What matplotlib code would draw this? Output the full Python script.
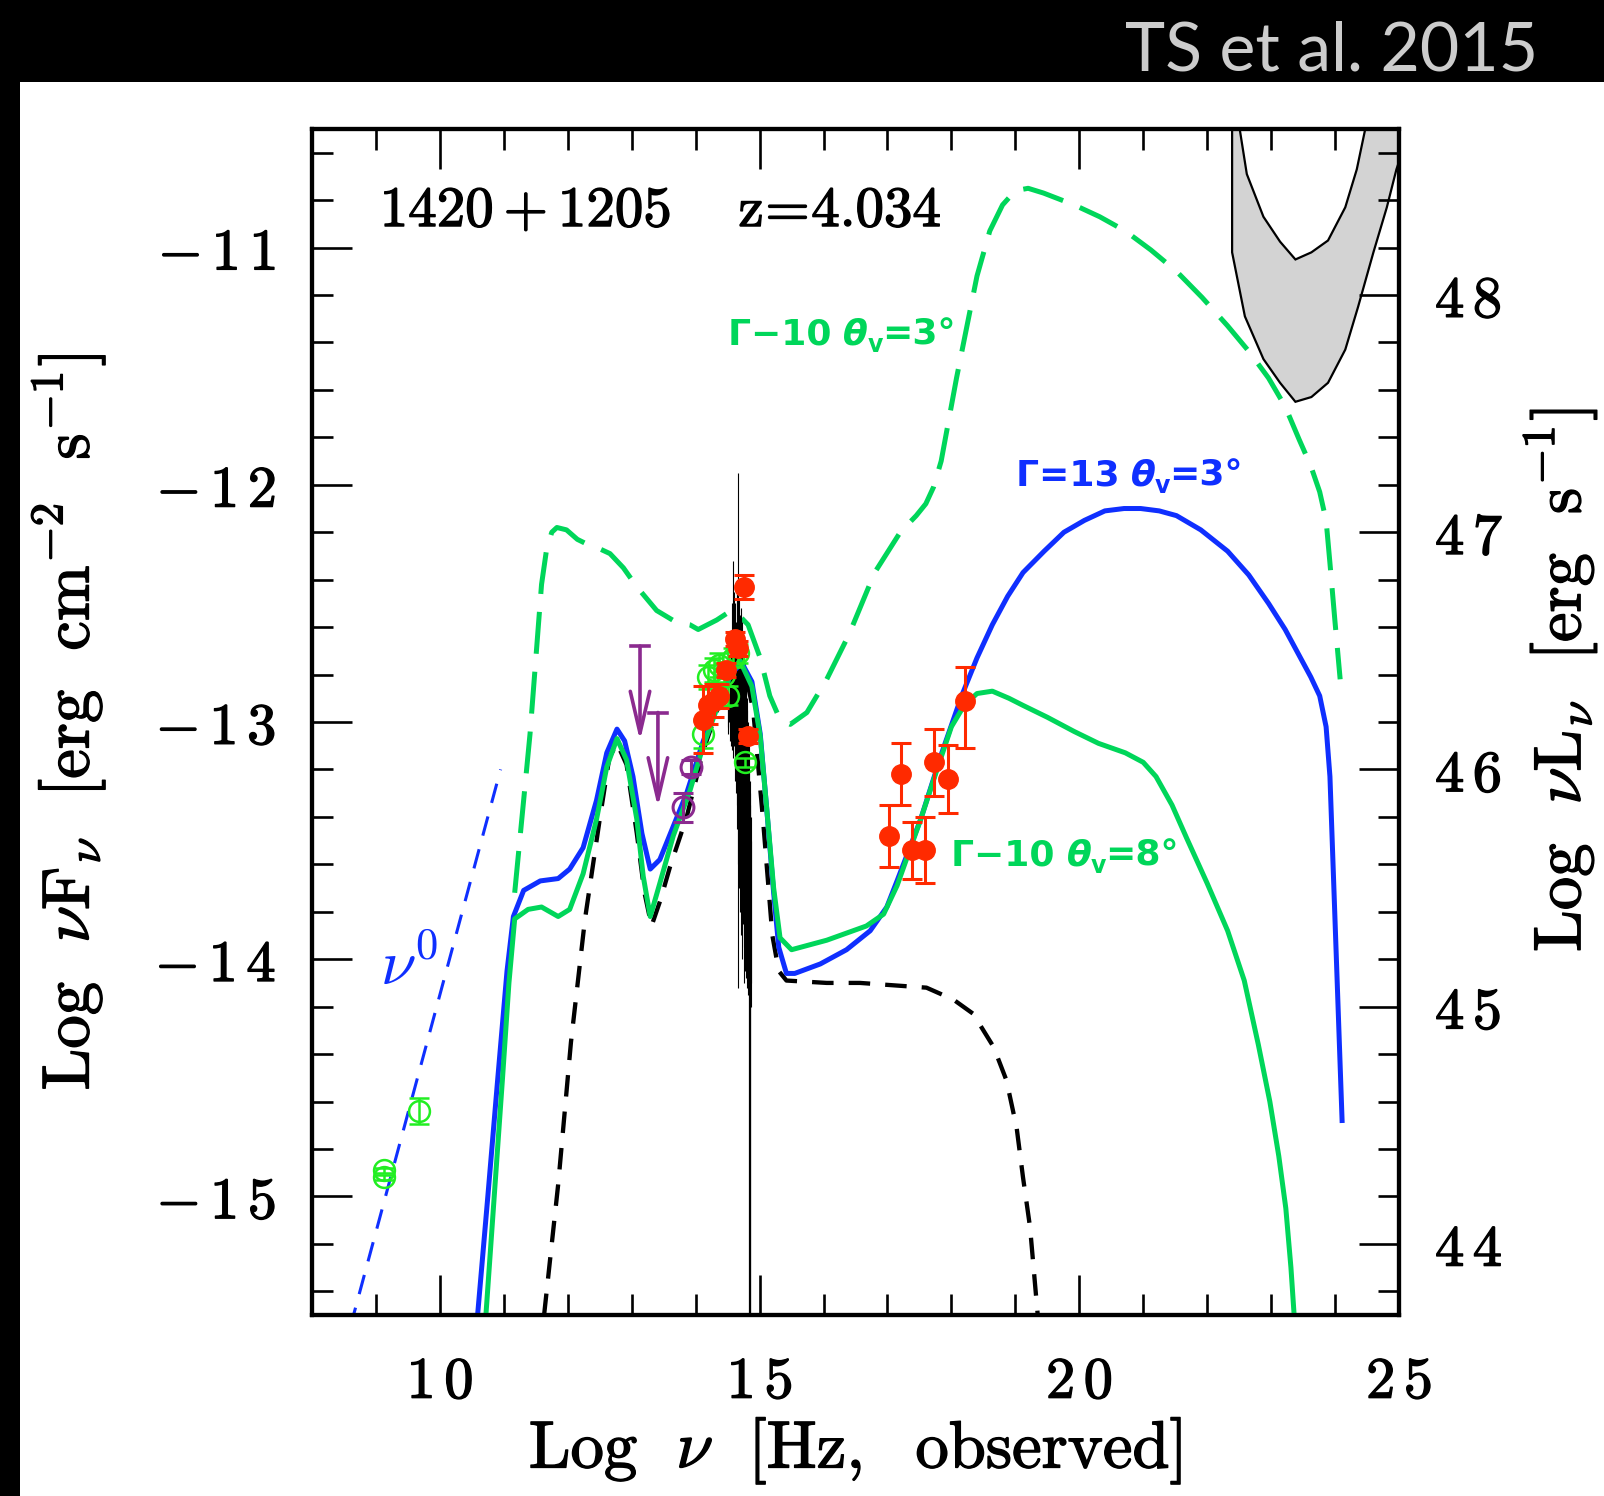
import matplotlib
matplotlib.use('Agg')
import matplotlib.pyplot as plt
import matplotlib.patheffects as pe
from matplotlib.patches import Rectangle
from matplotlib.ticker import MultipleLocator, FuncFormatter

plt.rcParams['mathtext.fontset'] = 'cm'
plt.rcParams['font.family'] = ['DejaVu Serif']

# log nu [Hz] / log nuFnu [erg cm^-2 s^-1]
blue_x = [10.59, 10.75, 10.90, 11.05, 11.15, 11.31, 11.57, 11.85, 12.03, 12.24, 12.45, 12.61, 12.77, 12.89,
          13.02, 13.16, 13.29, 13.44, 13.65, 13.86, 14.12, 14.35, 14.55, 14.72, 14.88, 15.01, 15.11, 15.22,
          15.30, 15.42, 15.55, 15.95, 16.36, 16.73, 16.99, 17.15, 17.52, 17.85, 18.16, 18.40, 18.64, 18.88,
          19.12, 19.45, 19.76, 20.08, 20.40, 20.70, 20.96, 21.25, 21.52, 21.90, 22.32, 22.65, 22.96, 23.22,
          23.44, 23.62, 23.76, 23.86, 23.92, 24.00, 24.11]
blue_y = [-15.50, -15.00, -14.52, -14.05, -13.82, -13.71, -13.67, -13.66, -13.62, -13.53, -13.33, -13.13, -13.03,
          -13.08, -13.23, -13.47, -13.62, -13.58, -13.44, -13.30, -13.08, -12.92, -12.80, -12.75, -12.83, -13.05,
          -13.36, -13.72, -13.95, -14.06, -14.06, -14.02, -13.96, -13.88, -13.78, -13.67, -13.41, -13.13, -12.89,
          -12.73, -12.59, -12.47, -12.37, -12.28, -12.20, -12.15, -12.11, -12.10, -12.10, -12.11, -12.13, -12.19,
          -12.28, -12.38, -12.50, -12.61, -12.72, -12.81, -12.89, -13.02, -13.23, -13.84, -14.68]

green_x = [10.72, 10.85, 10.98, 11.08, 11.17, 11.38, 11.59, 11.85, 12.03, 12.24, 12.45, 12.61, 12.77, 12.92,
           13.08, 13.18, 13.29, 13.44, 13.65, 13.91, 14.12, 14.35, 14.55, 14.69, 14.88, 15.01, 15.11, 15.22,
           15.32, 15.50, 16.05, 16.67, 16.94, 17.15, 17.52, 17.80, 18.00, 18.20, 18.40, 18.64, 18.90, 19.12,
           19.50, 19.92, 20.30, 20.72, 21.00, 21.20, 21.45, 21.68, 22.00, 22.32, 22.58, 22.80, 22.98, 23.12,
           23.23, 23.31, 23.36]
green_y = [-15.50, -15.00, -14.50, -14.10, -13.83, -13.79, -13.78, -13.82, -13.79, -13.64, -13.41, -13.19, -13.07,
           -13.16, -13.41, -13.65, -13.82, -13.68, -13.48, -13.29, -13.10, -12.93, -12.80, -12.74, -12.85, -13.06,
           -13.36, -13.70, -13.91, -13.96, -13.92, -13.86, -13.81, -13.69, -13.41, -13.18, -13.02, -12.93, -12.88,
           -12.87, -12.90, -12.93, -12.98, -13.04, -13.09, -13.13, -13.17, -13.23, -13.35, -13.49, -13.68, -13.88,
           -14.09, -14.36, -14.60, -14.83, -15.05, -15.30, -15.50]

gdash_x = [11.17, 11.31, 11.41, 11.51, 11.59, 11.67, 11.75, 11.83, 11.98, 12.15, 12.30, 12.50, 12.66, 12.87,
           13.08, 13.39, 13.70, 13.91, 14.04, 14.33, 14.50, 14.64, 14.82, 15.01, 15.16, 15.32, 15.48, 15.74,
           16.05, 16.40, 16.80, 17.20, 17.45, 17.60, 17.72, 17.84, 18.08, 18.40, 18.60, 18.80, 19.00, 19.20,
           19.44, 19.92, 20.32, 20.72, 21.12, 21.52, 21.92, 22.32, 22.66, 22.96, 23.22, 23.44, 23.62, 23.76,
           23.86, 23.92, 24.00, 24.08]
gdash_y = [-13.72, -13.33, -13.05, -12.70, -12.42, -12.27, -12.20, -12.18, -12.19, -12.23, -12.25, -12.27, -12.29,
           -12.35, -12.43, -12.53, -12.58, -12.59, -12.61, -12.57, -12.54, -12.54, -12.59, -12.73, -12.89, -12.99,
           -13.01, -12.96, -12.82, -12.63, -12.37, -12.20, -12.13, -12.08, -12.01, -11.90, -11.55, -11.12, -10.93,
           -10.82, -10.76, -10.75, -10.77, -10.82, -10.87, -10.93, -11.01, -11.10, -11.21, -11.33, -11.44, -11.55,
           -11.67, -11.81, -11.92, -12.03, -12.15, -12.33, -12.58, -12.82]

# disk + torus + corona
bdash_x = [11.63, 11.85, 12.05, 12.27, 12.50, 12.65, 12.77, 12.92, 13.08, 13.20, 13.31, 13.45, 13.60, 13.86,
           14.12, 14.40, 14.60, 14.75, 14.90, 15.05, 15.20, 15.30, 15.42, 16.05, 16.57, 17.09, 17.61, 18.03,
           18.34, 18.66, 18.86, 19.02, 19.12, 19.23, 19.35]
bdash_y = [-15.50, -14.95, -14.35, -13.83, -13.41, -13.15, -13.09, -13.18, -13.47, -13.72, -13.86, -13.75, -13.61,
           -13.40, -13.12, -12.90, -12.78, -12.76, -12.95, -13.40, -13.90, -14.05, -14.09, -14.10, -14.10, -14.11,
           -14.12, -14.17, -14.23, -14.37, -14.51, -14.71, -14.92, -15.13, -15.50]

nu0_x = [8.60, 10.95]
nu0_y = [-15.55, -13.20]

# sensitivity band (lower and upper edges)
band_lo_x = [22.39, 22.39, 22.59, 22.88, 23.14, 23.38, 23.63, 23.89, 24.16, 24.36, 24.60, 24.81, 24.96, 25.30]
band_lo_y = [-10.40, -11.02, -11.29, -11.47, -11.57, -11.65, -11.63, -11.57, -11.43, -11.25, -11.02, -10.83,
             -10.67, -10.40]
band_hi_x = [22.45, 22.62, 22.88, 23.14, 23.38, 23.63, 23.89, 24.16, 24.34, 24.55]
band_hi_y = [-10.40, -10.69, -10.87, -10.975, -11.05, -11.02, -10.97, -10.83, -10.67, -10.40]

# optical spectrum (per-bin low / high)
spec_x = [14.50, 14.51, 14.52, 14.53, 14.54, 14.55, 14.56, 14.57, 14.58, 14.59, 14.60, 14.61, 14.62, 14.63,
          14.64, 14.65, 14.66, 14.67, 14.68, 14.69, 14.70, 14.71, 14.72, 14.73, 14.74, 14.75, 14.76, 14.77,
          14.78, 14.79, 14.80, 14.81, 14.82, 14.83, 14.84, 14.845, 14.85, 14.855, 14.86, 14.87]
spec_lo = [-13.02, -13.05, -13.00, -13.08, -13.03, -13.10, -13.05, -13.12, -13.05, -13.15, -13.10, -13.20, -13.25,
           -13.30, -13.35, -13.45, -13.60, -14.12, -13.70, -13.80, -13.65, -13.90, -13.75, -14.00, -13.85, -14.10,
           -13.95, -14.05, -13.90, -14.08, -14.12, -14.00, -14.15, -15.50, -15.50, -15.50, -15.50, -15.50, -14.20,
           -14.10]
spec_hi = [-12.90, -12.85, -12.88, -12.80, -12.75, -12.70, -12.62, -12.50, -12.32, -12.55, -12.45, -12.60, -12.50,
           -12.58, -12.45, -12.40, -12.52, -11.95, -12.48, -12.55, -12.60, -12.52, -12.65, -12.58, -12.62, -12.70,
           -12.66, -12.75, -12.80, -12.85, -12.90, -12.95, -13.00, -13.10, -13.20, -13.25, -13.30, -13.35, -13.40,
           -13.50]

# data
radio_x = [9.13, 9.13, 9.68]
radio_y = [-14.89, -14.92, -14.64]
radio_err = [0.01, 0.01, 0.055]

ir_x = [13.81, 13.93]
ir_y = [-13.36, -13.19]
ir_err = [0.06, 0.03]

ul_x = [13.13, 13.41]
ul_y = [-12.68, -12.96]

optg_x = [14.12, 14.20, 14.28, 14.36, 14.44, 14.50, 14.58, 14.66, 14.77]
optg_y = [-13.05, -12.81, -12.78, -12.76, -12.80, -12.89, -12.73, -12.71, -13.17]
optg_err = [0.06, 0.05, 0.05, 0.05, 0.05, 0.04, 0.04, 0.04, 0.02]

optr_x = [14.12, 14.20, 14.28, 14.37, 14.48, 14.61, 14.67, 14.75, 14.82]
optr_y = [-12.99, -12.93, -12.91, -12.89, -12.78, -12.65, -12.69, -12.43, -13.06]
optr_err = [0.14, 0.08, 0.07, 0.05, 0.03, 0.03, 0.03, 0.05, 0.03]

xr_x = [17.03, 17.21, 17.38, 17.58, 17.72, 17.94, 18.22]
xr_y = [-13.48, -13.22, -13.54, -13.54, -13.17, -13.24, -12.91]
xr_err_lo = [0.13, 0.13, 0.12, 0.14, 0.14, 0.145, 0.20]
xr_err_hi = [0.13, 0.13, 0.12, 0.14, 0.14, 0.145, 0.14]

LUM_OFFSET = 59.2

BLUE = '#0f2fff'
GREEN = '#00d65a'
LIME = '#22ee22'
RED = '#ff2a00'
PURPLE = '#8b2a8f'

HEAVY = [pe.withStroke(linewidth=1.0, foreground='black')]


def sm_label(v, pos):
    v = int(round(v))
    digits = r'\,'.join(str(abs(v)))
    if v < 0:
        return r'$-\,%s$' % digits
    return r'$%s$' % digits


def model_label(fig, ax, x, y, head, tail, color):
    # "Gamma-10  theta_v=3deg", pieced together so theta can be bold italic
    renderer = fig.canvas.get_renderer()
    style = dict(color=color, family='DejaVu Sans', fontweight='bold')
    parts = [(head + ' ', 26, 'normal', 0), ('θ', 26, 'italic', 0), ('v', 17, 'normal', -7),
             (tail, 26, 'normal', 0)]
    dx = 0.0
    for txt, size, fstyle, dy in parts:
        t = ax.annotate(txt, xy=(x, y), xytext=(dx, dy), textcoords='offset pixels', fontsize=size,
                        fontstyle=fstyle, **style)
        dx += t.get_window_extent(renderer).width - 1


def main():
    fig = plt.figure(figsize=(16.04, 14.96), dpi=100, facecolor='black')
    fig.patches.append(Rectangle((20 / 1604, 0), 1, (1496 - 82) / 1496, transform=fig.transFigure,
                                 facecolor='white', edgecolor='none', zorder=-5))
    fig.text(0.9589, 0.9532, 'TS et al. 2015', color='#cccccc', fontsize=49, family='Lato',
             ha='right', va='baseline')

    ax = fig.add_axes([0.19451, 0.12099, 0.67768, 0.79278])
    ax.set_xlim(8, 25)
    ax.set_ylim(-15.5, -10.5)

    ax.fill(band_lo_x + band_hi_x[::-1], band_lo_y + band_hi_y[::-1], facecolor='#d3d3d3',
            edgecolor='black', lw=1.6, zorder=1)

    ax.plot(nu0_x, nu0_y, color=BLUE, lw=2.2, dashes=(6.5, 4.6), zorder=2)
    ax.plot(bdash_x, bdash_y, color='black', lw=3.1, dashes=(5.0, 3.5), zorder=2)
    ax.plot(gdash_x, gdash_y, color=GREEN, lw=3.6, dashes=(8.4, 3.6), zorder=3)
    ax.vlines(spec_x, spec_lo, spec_hi, color='black', lw=0.8, zorder=3)
    ax.plot(blue_x, blue_y, color=BLUE, lw=3.6, zorder=4)
    ax.plot(green_x, green_y, color=GREEN, lw=3.6, zorder=4)

    ax.errorbar(radio_x, radio_y, yerr=radio_err, fmt='o', mfc='none', mec=LIME, ecolor=LIME,
                ms=15, mew=1.8, elinewidth=1.8, capsize=7, capthick=1.8, zorder=5)
    ax.errorbar(ir_x, ir_y, yerr=ir_err, fmt='o', mfc='none', mec=PURPLE, ecolor=PURPLE,
                ms=15, mew=2.2, elinewidth=2.2, capsize=7, capthick=2.2, zorder=5)
    for x, y in zip(ul_x, ul_y):
        ax.plot([x - 0.14, x + 0.14], [y, y], color=PURPLE, lw=2.6, zorder=5)
        ax.annotate('', xy=(x, y - 0.40), xytext=(x, y),
                    arrowprops=dict(arrowstyle='->, head_length=30, head_width=7', mutation_scale=1,
                                    color=PURPLE, lw=2.6, shrinkA=0, shrinkB=0), zorder=5)
    ax.errorbar(optg_x, optg_y, yerr=optg_err, fmt='o', mfc='none', mec=LIME, ecolor=LIME,
                ms=15, mew=1.8, elinewidth=1.8, capsize=7, capthick=1.8, zorder=5)
    ax.errorbar(optr_x, optr_y, yerr=optr_err, fmt='o', color=RED, ms=14, elinewidth=2.2,
                capsize=7, capthick=2.2, zorder=6)
    ax.errorbar(xr_x, xr_y, yerr=[xr_err_lo, xr_err_hi], fmt='o', color=RED, ms=14, elinewidth=2.2,
                capsize=7, capthick=2.2, zorder=6)

    ax.text(9.06, -10.91, r'$1420+1205\ \ \ \ \mathrm{z}\!=\!4.034$', fontsize=41, color='black',
            path_effects=HEAVY)
    ax.text(9.06, -14.11, r'$\nu^0$', fontsize=46, color=BLUE)
    model_label(fig, ax, 14.51, -11.41, 'Γ−10', '=3°', GREEN)
    model_label(fig, ax, 19.01, -12.005, 'Γ=13', '=3°', BLUE)
    model_label(fig, ax, 18.00, -13.605, 'Γ−10', '=8°', GREEN)

    ax.xaxis.set_major_locator(MultipleLocator(5))
    ax.xaxis.set_minor_locator(MultipleLocator(1))
    ax.yaxis.set_major_locator(MultipleLocator(1))
    ax.yaxis.set_minor_locator(MultipleLocator(0.2))
    ax.xaxis.set_major_formatter(FuncFormatter(sm_label))
    ax.yaxis.set_major_formatter(FuncFormatter(sm_label))
    ax.tick_params(which='both', direction='in', top=True, right=False, width=1.9, labelsize=42)
    ax.tick_params(which='major', length=29, pad=26)
    ax.tick_params(which='minor', length=15)
    ax.tick_params(axis='x', which='major', pad=28)
    for sp in ax.spines.values():
        sp.set_linewidth(3.0)

    ax.set_xlabel(r'$\mathrm{Log}\ \ \nu\ \ [\mathrm{Hz,\ \ observed}]$', fontsize=48, labelpad=4,
                  path_effects=HEAVY)
    ax.set_ylabel(r'$\mathrm{Log}\ \ \nu\mathrm{F}_\nu\ \ [\mathrm{erg\ \ cm^{-2}\ \ s^{-1}}]$',
                  fontsize=48, labelpad=34, path_effects=HEAVY)

    ax2 = ax.twinx()
    ax2.set_ylim(-15.5 + LUM_OFFSET, -10.5 + LUM_OFFSET)
    ax2.yaxis.set_major_locator(MultipleLocator(1))
    ax2.yaxis.set_minor_locator(MultipleLocator(0.2))
    ax2.yaxis.set_major_formatter(FuncFormatter(sm_label))
    ax2.tick_params(which='both', direction='in', width=1.9, labelsize=42)
    ax2.tick_params(which='major', length=29, pad=26)
    ax2.tick_params(which='minor', length=15)
    for sp in ax2.spines.values():
        sp.set_linewidth(3.0)
    fig.text(1560 / 1604, 1 - 680 / 1496, r'$\mathrm{Log}\ \ \nu\mathrm{L}_\nu\ \ [\mathrm{erg\ \ s^{-1}}]$',
             fontsize=48, rotation=90, ha='center', va='center', path_effects=HEAVY)

    for lab in ax.get_xticklabels() + ax.get_yticklabels() + ax2.get_yticklabels():
        lab.set_path_effects(HEAVY)

    fig.savefig('out.png', dpi=100, facecolor=fig.get_facecolor())


if __name__ == '__main__':
    main()
